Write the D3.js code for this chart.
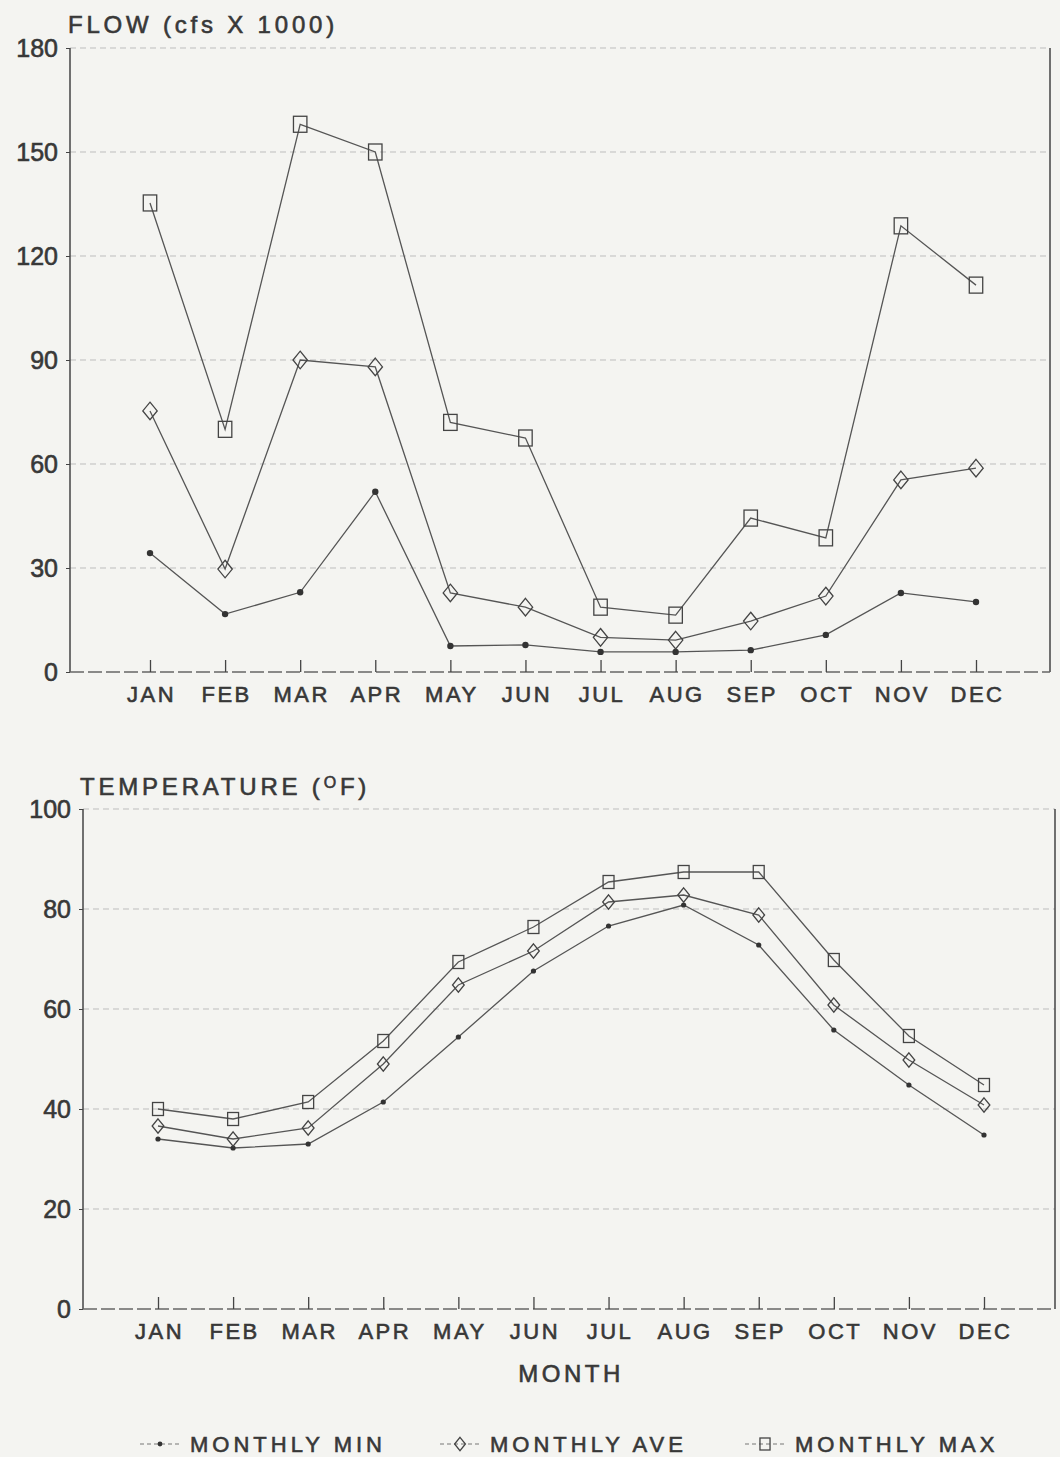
<!DOCTYPE html>
<html><head><meta charset="utf-8">
<script src="https://cdn.jsdelivr.net/npm/d3@7/dist/d3.min.js"></script>
<style>
body{margin:0;background:#f4f4f1;}
svg{display:block;}
text{font-family:"Liberation Sans",Arial,sans-serif;fill:#383838;stroke:#383838;stroke-width:0.6;}
</style></head>
<body>
<script>
const months = ["JAN","FEB","MAR","APR","MAY","JUN","JUL","AUG","SEP","OCT","NOV","DEC"];
const flowMin = [34.3,16.7,23,52,7.5,7.8,5.8,5.8,6.3,10.7,22.8,20.2];
const flowAve = [75.3,29.7,90,88,22.8,18.7,10,9.2,14.7,21.9,55.4,58.8];
const flowMax = [135.3,70,158,150,72,67.5,18.7,16.4,44.4,38.7,128.7,111.6];
const flowTicks = [0,30,60,90,120,150,180];
const tempMin = [34,32.2,33,41.4,54.4,67.6,76.6,80.8,72.8,55.8,44.8,34.8];
const tempAve = [36.6,34,36.2,49,64.8,71.6,81.4,82.8,78.8,60.8,49.8,40.8];
const tempMax = [40,38,41.4,53.6,69.4,76.4,85.4,87.4,87.4,69.8,54.6,44.8];
const tempTicks = [0,20,40,60,80,100];
const legendLabels = ["MONTHLY MIN","MONTHLY AVE","MONTHLY MAX"];

const W=1060,H=1457;
const svg=d3.select("body").append("svg").attr("width",W).attr("height",H);
const ink="#444";

function marker(g,type,x,y,s){
  if(type==="min"){
    g.append("circle").attr("cx",x).attr("cy",y).attr("r",s*0.2).attr("fill","#333");
  } else if(type==="ave"){
    g.append("path").attr("d",`M${x},${y-s*0.55}L${x+s*0.45},${y}L${x},${y+s*0.55}L${x-s*0.45},${y}Z`)
      .attr("fill","none").attr("stroke","#444").attr("stroke-width",1.3);
  } else {
    g.append("rect").attr("x",x-s*0.42).attr("y",y-s*0.5).attr("width",s*0.84).attr("height",s)
      .attr("fill","none").attr("stroke","#444").attr("stroke-width",1.3);
  }
}

function panel(o){
  const g=svg.append("g");
  const x=d3.scalePoint().domain(months).range(o.xr);
  const y=d3.scaleLinear().domain([0,o.max]).range([o.bottom,o.top]);
  g.selectAll(".grid").data(o.ticks.filter(t=>t>0)).enter().append("line")
    .attr("x1",o.left).attr("x2",o.right).attr("y1",d=>y(d)).attr("y2",d=>y(d))
    .attr("stroke","#bdbdbd").attr("stroke-width",1).attr("stroke-dasharray","6,4");
  g.append("line").attr("x1",o.left).attr("x2",o.left).attr("y1",o.top).attr("y2",o.bottom).attr("stroke",ink).attr("stroke-width",1.5);
  g.append("line").attr("x1",o.right).attr("x2",o.right).attr("y1",o.top).attr("y2",o.bottom).attr("stroke",ink).attr("stroke-width",1.5);
  g.append("line").attr("x1",o.left).attr("x2",o.right).attr("y1",o.bottom).attr("y2",o.bottom).attr("stroke","#666").attr("stroke-width",1.3).attr("stroke-dasharray","14,4");
  const ya=g.append("g").attr("transform",`translate(${o.left},0)`)
    .call(d3.axisLeft(y).tickValues(o.ticks).tickSize(4).tickPadding(8));
  ya.select(".domain").remove();
  ya.selectAll("line").attr("stroke",ink);
  ya.selectAll("text").attr("font-size",25).attr("fill","#383838").attr("font-family","Liberation Sans, Arial, sans-serif");
  const xa=g.append("g").attr("transform",`translate(0,${o.bottom})`)
    .call(d3.axisTop(x).tickSize(12).tickFormat(""));
  xa.select(".domain").remove();
  xa.selectAll("line").attr("stroke",ink).attr("stroke-width",1.3);
  g.selectAll(".mlab").data(months).enter().append("text")
    .attr("x",d=>x(d)+1.5).attr("y",o.bottom+30).attr("text-anchor","middle")
    .attr("font-size",22).attr("letter-spacing",2.5).text(d=>d);
  const line=d3.line().x((d,i)=>x(months[i])).y(d=>y(d));
  const series=[["min",o.min],["ave",o.ave],["max",o.maxS]];
  series.forEach(([t,vals])=>{
    g.append("path").attr("d",line(vals)).attr("fill","none").attr("stroke","#555").attr("stroke-width",1.3);
  });
  series.forEach(([t,vals])=>{
    vals.forEach((v,i)=>marker(g,t,x(months[i]),y(v),o.ms));
  });
}

panel({left:70,right:1050,top:48,bottom:672,xr:[150,976],max:180,ticks:flowTicks,min:flowMin,ave:flowAve,maxS:flowMax,ms:16});
svg.append("text").attr("x",68).attr("y",33).attr("font-size",24).attr("letter-spacing",3.8).text("FLOW (cfs X 1000)");

panel({left:83,right:1055,top:809,bottom:1309,xr:[158,984],max:100,ticks:tempTicks,min:tempMin,ave:tempAve,maxS:tempMax,ms:13});
const tt=svg.append("text").attr("x",80).attr("y",795).attr("font-size",24).attr("letter-spacing",3.8);
tt.append("tspan").text("TEMPERATURE (");
tt.append("tspan").attr("font-size",16).attr("dy",-7).text("O");
tt.append("tspan").attr("dy",7).text("F)");
svg.append("text").attr("x",571).attr("y",1382).attr("text-anchor","middle").attr("font-size",24).attr("letter-spacing",3.5).text("MONTH");

const legX=[140,440,745];
const types=["min","ave","max"];
legendLabels.forEach((lab,i)=>{
  const lg=svg.append("g");
  const x0=legX[i], yy=1444;
  lg.append("line").attr("x1",x0).attr("x2",x0+40).attr("y1",yy).attr("y2",yy).attr("stroke","#777").attr("stroke-width",1.2).attr("stroke-dasharray","4,3");
  marker(lg,types[i],x0+20,yy,12);
  lg.append("text").attr("x",x0+50).attr("y",yy+8).attr("font-size",22).attr("letter-spacing",4).text(lab);
});
</script>
</body></html>
